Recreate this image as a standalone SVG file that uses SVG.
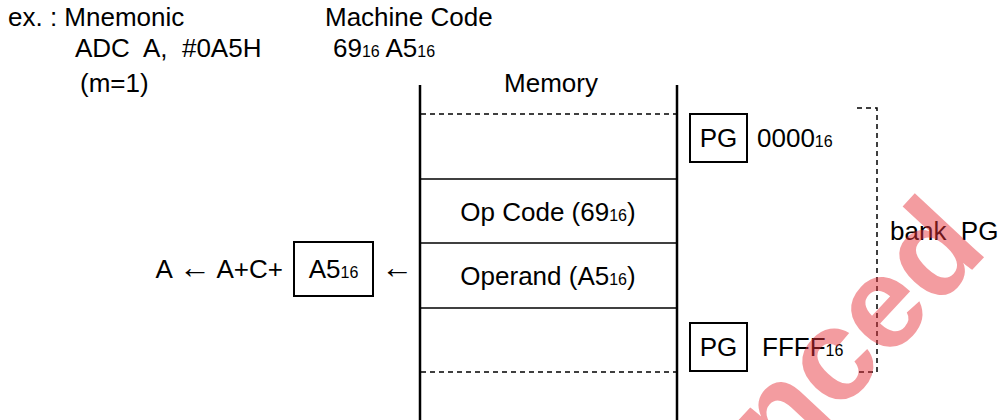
<svg xmlns="http://www.w3.org/2000/svg" width="999" height="420" viewBox="0 0 999 420">
<style>
text{font-family:"Liberation Sans",Arial,sans-serif;font-size:26px;fill:#000;white-space:pre}
.sub{font-size:16px}
.c{text-anchor:middle}
.arr{font-size:32px}
.wall{stroke:#000;stroke-width:2.5;fill:none}
.row{stroke:#000;stroke-width:1.5;fill:none}
.dash{stroke:#000;stroke-width:1.5;fill:none;stroke-dasharray:5 4}
.box{stroke:#000;stroke-width:2;fill:#fff}
.wm{font-family:"Liberation Sans",Arial,sans-serif;font-weight:bold;font-size:130px;fill:#e8313a;opacity:0.48;text-anchor:end}
</style>
<g id="header">
<text x="8" y="26">ex. : Mnemonic</text>
<text x="325" y="26">Machine Code</text>
<text x="75" y="57">ADC  A,  #0A5H</text>
<text x="333" y="57">69<tspan class="sub">16</tspan> A5<tspan class="sub">16</tspan></text>
<text x="80" y="92">(m=1)</text>
</g>
<g id="memory">
<text class="c" x="551" y="92">Memory</text>
<line class="wall" x1="420" y1="85" x2="420" y2="420"/>
<line class="wall" x1="677" y1="85" x2="677" y2="420"/>
<line class="dash" x1="421" y1="114" x2="676" y2="114"/>
<line class="row" x1="421" y1="179" x2="676" y2="179"/>
<line class="row" x1="421" y1="243" x2="676" y2="243"/>
<line class="row" x1="421" y1="308" x2="676" y2="308"/>
<line class="dash" x1="421" y1="372" x2="676" y2="372"/>
</g>
<g id="opcode"><text class="c" x="548" y="221">Op Code (69<tspan class="sub">16</tspan>)</text></g>
<g id="operand"><text class="c" x="548" y="285">Operand (A5<tspan class="sub">16</tspan>)</text></g>
<g id="pg-start">
<rect class="box" x="690" y="114" width="57" height="48"/>
<text class="c" x="718.5" y="147">PG</text>
<text x="757" y="147">0000<tspan class="sub">16</tspan></text>
</g>
<g id="pg-end">
<rect class="box" x="690" y="323" width="57" height="48"/>
<text class="c" x="718.5" y="356">PG</text>
<text x="762" y="356">FFFF<tspan class="sub">16</tspan></text>
</g>
<g id="bank">
<text x="890" y="240">bank  PG</text>
</g>
<g id="operation">
<text x="283" y="278" text-anchor="end">A <tspan class="arr">←</tspan> A+C+</text>
<rect class="box" x="294" y="242" width="79" height="54"/>
<text class="c" x="333.5" y="278">A5<tspan class="sub">16</tspan></text>
<text class="arr" x="381" y="278">←</text>
</g>
<g id="connectors">
<path class="dash" d="M857,108 H877 V372 H857"/>
</g>
<text class="wm" transform="translate(990,251) rotate(-47)">nced</text>
</svg>
